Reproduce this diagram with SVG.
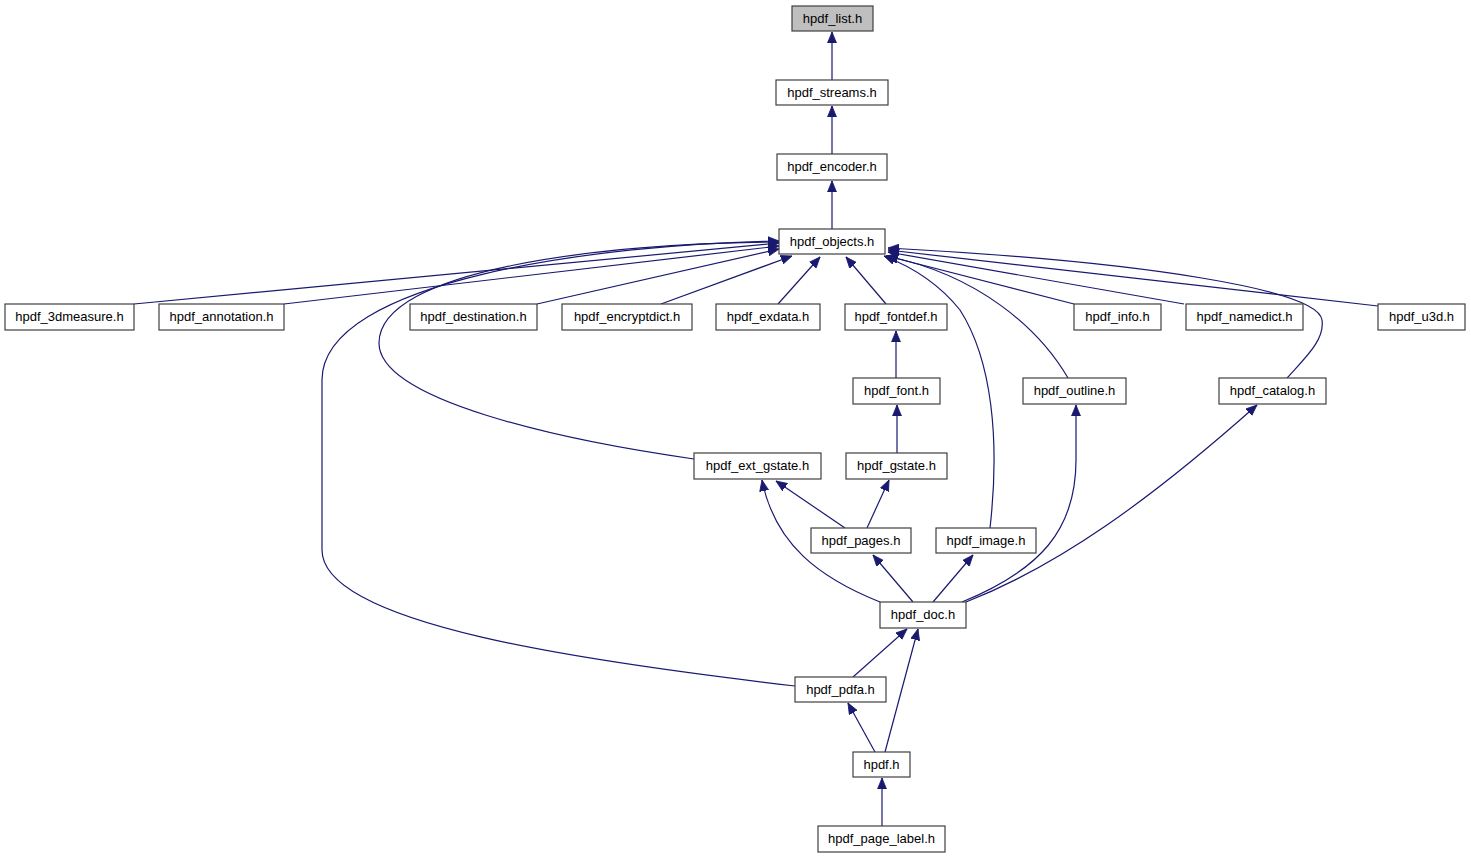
<svg xmlns="http://www.w3.org/2000/svg" width="1471" height="859" viewBox="0 0 1471 859">
<style>
.n rect{fill:#ffffff;stroke:#404040;stroke-width:1.2}
.n.root rect{fill:#bfbfbf}
.n text{font-family:"Liberation Sans",Arial,Helvetica,sans-serif;font-size:13px;fill:#000000;text-anchor:middle}
.e path{fill:none;stroke:#191970;stroke-width:1.2;marker-end:url(#ah)}
</style>
<defs>
<marker id="ah" markerUnits="userSpaceOnUse" markerWidth="12" markerHeight="10" refX="11" refY="5" orient="auto">
<path d="M0,0.5 L11,5 L0,9.5 z" fill="#191970" stroke="#191970" stroke-width="0.8"/>
</marker>
</defs>
<rect width="1471" height="859" fill="#ffffff"/>
<g id="edges" class="e">
<path d="M832,80 L832,32"/>
<path d="M832,154 L832,106"/>
<path d="M832,229 L832,181"/>
<path d="M134,304 L779,243"/>
<path d="M284,304 L779,246"/>
<path d="M537,304 L779,249"/>
<path d="M661,304 L792,256"/>
<path d="M778,304 L820,257"/>
<path d="M886,304 L846,257"/>
<path d="M1074,304 L887,256"/>
<path d="M1184,304 L888,252"/>
<path d="M1378,306 L888,250"/>
<path d="M1287,378 C1305,358 1325,340 1322,320 C1318,290 1150,262 888,248"/>
<path d="M1068,378 C1040,330 980,275 886,256"/>
<path d="M990,528 C1000,440 992,360 960,310 C940,285 915,268 884,256"/>
<path d="M694,459 C560,440 379,400 379,343 C379,270 600,243 779,242"/>
<path d="M795,686 C590,662 322,625 322,550 L322,380 C322,280 600,244 779,241"/>
<path d="M896,378 L896,331"/>
<path d="M897,453 L897,405"/>
<path d="M845,528 L776,481"/>
<path d="M867,528 L889,480"/>
<path d="M880,602 C820,578 775,545 762,480"/>
<path d="M913,602 L873,555"/>
<path d="M933,602 L973,555"/>
<path d="M962,602 C1040,570 1076,530 1076,460 L1076,405"/>
<path d="M966,602 C1060,565 1150,500 1257,405"/>
<path d="M853,677 L907,629"/>
<path d="M885,752 L918,629"/>
<path d="M875,752 L848,703"/>
<path d="M882,826 L882,778"/>
</g>
<g id="n_list" class="n root"><rect x="792" y="6" width="81" height="25"/><text x="832.5" y="23">hpdf_list.h</text></g>
<g id="n_streams" class="n"><rect x="776" y="80" width="112" height="25"/><text x="832" y="97">hpdf_streams.h</text></g>
<g id="n_encoder" class="n"><rect x="777" y="154" width="110" height="26"/><text x="832" y="171">hpdf_encoder.h</text></g>
<g id="n_objects" class="n"><rect x="779" y="229" width="106" height="25"/><text x="832" y="246">hpdf_objects.h</text></g>
<g id="n_3dmeasure" class="n"><rect x="5" y="304" width="129" height="26"/><text x="69.5" y="321">hpdf_3dmeasure.h</text></g>
<g id="n_annotation" class="n"><rect x="159" y="304" width="125" height="26"/><text x="221.5" y="321">hpdf_annotation.h</text></g>
<g id="n_destination" class="n"><rect x="410" y="304" width="127" height="26"/><text x="473.5" y="321">hpdf_destination.h</text></g>
<g id="n_encryptdict" class="n"><rect x="562" y="304" width="130" height="26"/><text x="627" y="321">hpdf_encryptdict.h</text></g>
<g id="n_exdata" class="n"><rect x="716" y="304" width="104" height="26"/><text x="768" y="321">hpdf_exdata.h</text></g>
<g id="n_fontdef" class="n"><rect x="845" y="304" width="102" height="26"/><text x="896" y="321">hpdf_fontdef.h</text></g>
<g id="n_info" class="n"><rect x="1074" y="304" width="87" height="26"/><text x="1117.5" y="321">hpdf_info.h</text></g>
<g id="n_namedict" class="n"><rect x="1186" y="304" width="117" height="26"/><text x="1244.5" y="321">hpdf_namedict.h</text></g>
<g id="n_u3d" class="n"><rect x="1378" y="304" width="87" height="26"/><text x="1421.5" y="321">hpdf_u3d.h</text></g>
<g id="n_font" class="n"><rect x="853" y="378" width="87" height="26"/><text x="896.5" y="395">hpdf_font.h</text></g>
<g id="n_outline" class="n"><rect x="1023" y="378" width="103" height="26"/><text x="1074.5" y="395">hpdf_outline.h</text></g>
<g id="n_catalog" class="n"><rect x="1219" y="378" width="107" height="26"/><text x="1272.5" y="395">hpdf_catalog.h</text></g>
<g id="n_ext_gstate" class="n"><rect x="694" y="453" width="127" height="26"/><text x="757.5" y="470">hpdf_ext_gstate.h</text></g>
<g id="n_gstate" class="n"><rect x="846" y="453" width="101" height="26"/><text x="896.5" y="470">hpdf_gstate.h</text></g>
<g id="n_pages" class="n"><rect x="811" y="528" width="100" height="25"/><text x="861" y="545">hpdf_pages.h</text></g>
<g id="n_image" class="n"><rect x="936" y="528" width="100" height="25"/><text x="986" y="545">hpdf_image.h</text></g>
<g id="n_doc" class="n"><rect x="880" y="602" width="86" height="26"/><text x="923" y="619">hpdf_doc.h</text></g>
<g id="n_pdfa" class="n"><rect x="795" y="677" width="91" height="25"/><text x="840.5" y="694">hpdf_pdfa.h</text></g>
<g id="n_hpdf" class="n"><rect x="853" y="752" width="57" height="25"/><text x="881.5" y="769">hpdf.h</text></g>
<g id="n_page_label" class="n"><rect x="818" y="826" width="127" height="26"/><text x="881.5" y="843">hpdf_page_label.h</text></g>
</svg>
